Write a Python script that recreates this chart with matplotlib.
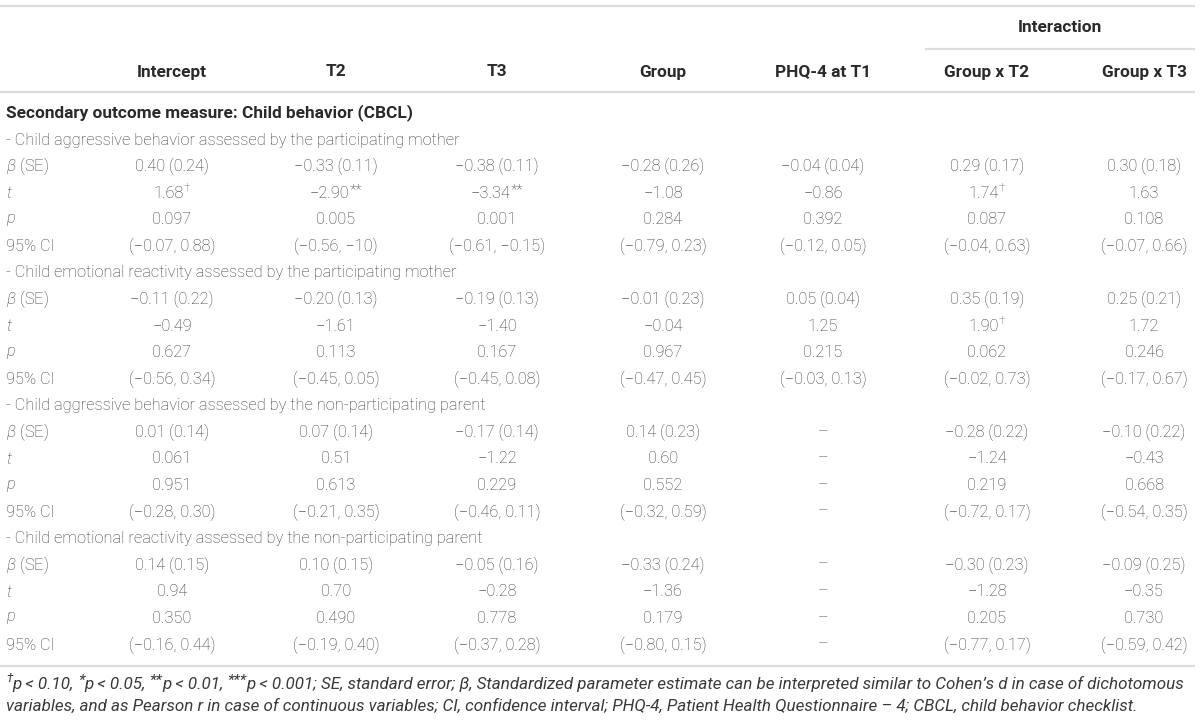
import re

import matplotlib
matplotlib.use("Agg")
import matplotlib.pyplot as plt

plt.rcParams["font.family"] = ["Roboto", "DejaVu Sans"]
plt.rcParams["mathtext.fontset"] = "custom"
plt.rcParams["mathtext.rm"] = "Roboto:light"
plt.rcParams["mathtext.it"] = "Roboto:italic:light"
plt.rcParams["mathtext.bf"] = "Roboto:bold"

# ----- table content -----
columns = ["Intercept", "T2", "T3", "Group", "PHQ-4 at T1", "Group x T2", "Group x T3"]
group_header = "Interaction"
section_title = "Secondary outcome measure: Child behavior (CBCL)"
row_labels = [r"$\it{\beta}$ (SE)", r"$\it{t}$", r"$\it{p}$", "95% CI"]

block_titles = [
    "- Child aggressive behavior assessed by the participating mother",
    "- Child emotional reactivity assessed by the participating mother",
    "- Child aggressive behavior assessed by the non-participating parent",
    "- Child emotional reactivity assessed by the non-participating parent",
]

agg_mother = [
    ["0.40 (0.24)", "−0.33 (0.11)", "−0.38 (0.11)", "−0.28 (0.26)", "−0.04 (0.04)", "0.29 (0.17)", "0.30 (0.18)"],
    ["1.68†", "−2.90**", "−3.34**", "−1.08", "−0.86", "1.74†", "1.63"],
    ["0.097", "0.005", "0.001", "0.284", "0.392", "0.087", "0.108"],
    ["(−0.07, 0.88)", "(−0.56, −10)", "(−0.61, −0.15)", "(−0.79, 0.23)", "(−0.12, 0.05)", "(−0.04, 0.63)", "(−0.07, 0.66)"],
]
emo_mother = [
    ["−0.11 (0.22)", "−0.20 (0.13)", "−0.19 (0.13)", "−0.01 (0.23)", "0.05 (0.04)", "0.35 (0.19)", "0.25 (0.21)"],
    ["−0.49", "−1.61", "−1.40", "−0.04", "1.25", "1.90†", "1.72"],
    ["0.627", "0.113", "0.167", "0.967", "0.215", "0.062", "0.246"],
    ["(−0.56, 0.34)", "(−0.45, 0.05)", "(−0.45, 0.08)", "(−0.47, 0.45)", "(−0.03, 0.13)", "(−0.02, 0.73)", "(−0.17, 0.67)"],
]
agg_parent = [
    ["0.01 (0.14)", "0.07 (0.14)", "−0.17 (0.14)", "0.14 (0.23)", "–", "−0.28 (0.22)", "−0.10 (0.22)"],
    ["0.061", "0.51", "−1.22", "0.60", "–", "−1.24", "−0.43"],
    ["0.951", "0.613", "0.229", "0.552", "–", "0.219", "0.668"],
    ["(−0.28, 0.30)", "(−0.21, 0.35)", "(−0.46, 0.11)", "(−0.32, 0.59)", "–", "(−0.72, 0.17)", "(−0.54, 0.35)"],
]
emo_parent = [
    ["0.14 (0.15)", "0.10 (0.15)", "−0.05 (0.16)", "−0.33 (0.24)", "–", "−0.30 (0.23)", "−0.09 (0.25)"],
    ["0.94", "0.70", "−0.28", "−1.36", "–", "−1.28", "−0.35"],
    ["0.350", "0.490", "0.778", "0.179", "–", "0.205", "0.730"],
    ["(−0.16, 0.44)", "(−0.19, 0.40)", "(−0.37, 0.28)", "(−0.80, 0.15)", "–", "(−0.77, 0.17)", "(−0.59, 0.42)"],
]
blocks = [agg_mother, emo_mother, agg_parent, emo_parent]

footnote = [
    "†p < 0.10, *p < 0.05, **p < 0.01, ***p < 0.001; SE, standard error; "
    "β, Standardized parameter estimate can be interpreted similar to Cohen’s d in case of dichotomous",
    "variables, and as Pearson r in case of continuous variables; CI, confidence interval; "
    "PHQ-4, Patient Health Questionnaire – 4; CBCL, child behavior checklist.",
]

# ----- layout (pixel space, y down) -----
W, H = 1200, 720
col_x = [172, 336, 497, 663, 823, 987, 1144]
left_x = 6
row0_y, row_step = 140, 26.58
text_c = "#3a3a3a"
head_c = "#2a2a2a"
rule_c = "#dcdcdc"
fs = 11.8
fs_bold = 12.4

fig = plt.figure(figsize=(W / 100, H / 100), dpi=100)
ax = fig.add_axes([0, 0, 1, 1])
ax.set_xlim(0, W)
ax.set_ylim(H, 0)
ax.axis("off")
rend = fig.canvas.get_renderer()


def draw_runs(x, y, s, size, ha="center", **kw):
    """Draw s with its dagger/asterisk runs set as small raised text."""
    parts = [p for p in re.split(r"([†*]+)", s) if p]
    objs = []
    for p in parts:
        if p.startswith("*"):
            # asterisks already sit high in the em box: bigger, less raise
            dy, scale = size * 0.22, 0.9
        elif p.startswith("†"):
            dy, scale = size * 0.42, 0.7
        else:
            dy, scale = 0, 1.0
        t = ax.text(0, y - dy, p, ha="left", va="center",
                    fontsize=size * scale, **kw)
        objs.append(t)
    widths = [t.get_window_extent(rend).width for t in objs]
    total = sum(widths)
    cur = x - total / 2 if ha == "center" else x
    for t, w in zip(objs, widths):
        t.set_x(cur)
        cur += w
    return objs, total


# rules
ax.hlines([6, 92, 666], 0, 1195, color=rule_c, lw=1.6)
ax.hlines(49, 925, 1195, color=rule_c, lw=1.6)

# headers
ax.text((925 + 1195) / 2, 27, group_header, ha="center", va="center",
        fontsize=fs_bold, fontweight="bold", color=head_c)
for x, c in zip(col_x, columns):
    ax.text(x, 72, c, ha="center", va="center", fontsize=fs_bold,
            fontweight="bold", color=head_c)
ax.text(left_x, 113, section_title, ha="left", va="center", fontsize=fs_bold,
        fontweight="bold", color=head_c)

# body
r = 0
for title, rows in zip(block_titles, blocks):
    y = row0_y + r * row_step
    ax.text(left_x, y, title, ha="left", va="center", fontsize=fs,
            fontweight="light", color=text_c)
    r += 1
    for lab, vals in zip(row_labels, rows):
        y = row0_y + r * row_step
        ax.text(left_x, y, lab, ha="left", va="center", fontsize=fs,
                fontweight="light", color=text_c)
        for x, v in zip(col_x, vals):
            draw_runs(x, y, v, fs, fontweight="light", color=text_c)
        r += 1

# footnote, fitted to the table width (measure once, then discard)
fn_fam = ["Liberation Sans Narrow", "Roboto", "DejaVu Sans"]
probe, w0 = draw_runs(left_x, 684, footnote[0], fs, ha="left", family=fn_fam,
                      style="italic", color=text_c)
for t in probe:
    t.remove()
fn_fs = fs * 1182 / w0
for y, s in zip([684, 706], footnote):
    draw_runs(left_x, y, s, fn_fs, ha="left", family=fn_fam,
              style="italic", color=text_c)

fig.savefig("out.png", dpi=100)
